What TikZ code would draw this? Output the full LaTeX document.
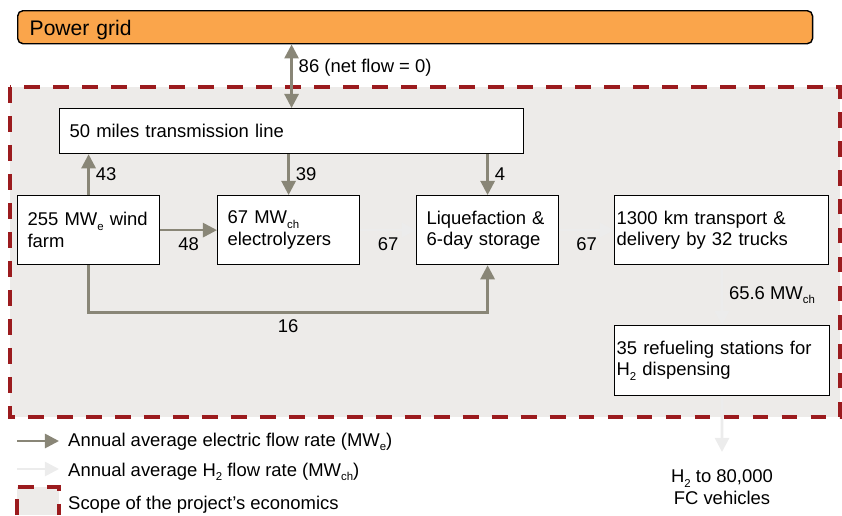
\documentclass[tikz,border=0pt]{standalone}
\usepackage{fontspec}
\setmainfont{Liberation Sans}
\usetikzlibrary{arrows.meta}

\definecolor{naranja}{RGB}{250,165,75}
\definecolor{fondo}{RGB}{237,235,233}
\definecolor{rojo}{RGB}{155,27,30}
\definecolor{flecha}{RGB}{137,134,119}
\definecolor{hidro}{RGB}{236,236,236}

% subindice como en el original
\newcommand{\bajo}[1]{\raisebox{-2.5pt}{\fontsize{6.5}{7}\selectfont #1}}

\tikzset{
  caja/.style={draw, fill=white, line width=0.7pt, anchor=north west, align=left,
    inner ysep=0pt, minimum height=1.38cm},
  red/.style={draw, fill=naranja, line width=0.8pt, rounded corners=3pt, anchor=north west,
    align=left, inner xsep=0.24cm, inner ysep=0pt, minimum width=15.9cm, text width=15.42cm,
    minimum height=0.66cm, text height=10pt, text depth=0.4pt, font=\fontsize{12}{14}\selectfont},
  alcance/.style={draw=rojo, line width=2.2pt, dash pattern=on 9pt off 7.5pt},
  elec/.style={draw=flecha, line width=1.5pt, -{Triangle[length=8pt,width=8pt]}},
  hflujo/.style={draw=hidro, line width=1.5pt, -{Triangle[length=8pt,width=8pt]}},
}

\begin{document}
\begin{tikzpicture}[x=0.02cm, y=-0.02cm, font=\fontsize{10.5}{12.2}\selectfont]
  \useasboundingbox (0,0) rectangle (842,515);

  % Alcance del proyecto
  \fill[fondo] (10,87) rectangle (840,417);
  \draw[alcance] (10,87) rectangle (840,417);

  % Red
  \node[red] (grid) at (17,10) {Power grid};

  % Cajas
  \node[caja, inner xsep=0.2cm, minimum width=9.28cm, text width=8.88cm, minimum height=0.9cm]
    (tline) at (59,108) {50 miles transmission line};
  \node[caja, inner xsep=0.2cm, minimum width=2.84cm, text width=2.44cm]
    (wind) at (17,195) {255 MW\bajo{e} wind\\farm};
  \node[caja, inner xsep=0.2cm, minimum width=2.84cm, text width=2.44cm]
    (electro) at (217,195) {67 MW\bajo{ch}\\electrolyzers};
  \node[caja, inner xsep=0.2cm, minimum width=2.84cm, text width=2.44cm]
    (liq) at (416,195) {Liquefaction \&\\6-day storage};
  \node[caja, inner xsep=1pt, minimum width=4.28cm, text width=4.2cm]
    (trans) at (614,195) {1300 km transport \&\\delivery by 32 trucks};
  \node[caja, inner xsep=1pt, minimum width=4.3cm, text width=4.22cm, minimum height=1.4cm]
    (refuel) at (614,325) {35 refueling stations for\\H\bajo{2} dispensing};
  \node[align=center, anchor=north, inner ysep=10pt] (fcv) at (722,452)
    {H\bajo{2} to 80,000\\FC vehicles};

  % Flujos electricos
  \draw[elec, {Triangle[length=8pt,width=8pt]}-{Triangle[length=8pt,width=8pt]}]
    (grid.south -| tline.north) -- node[right, pos=0.37] {86 (net flow = 0)} (tline.north);
  \draw[elec] (wind.north) -- node[right] {43} (tline.south -| wind.north);
  \draw[elec] (tline.south -| electro.north) -- node[right] {39} (electro.north);
  \draw[elec] (tline.south -| liq.north) -- node[right] {4} (liq.north);
  \draw[elec] (wind.east) -- node[below] {48} (electro.west);
  \draw[elec] (wind.south) -- ++(0,47) -| node[pos=0.25, below] {16} (liq.south);

  % Flujos de H2
  \draw[hflujo] (electro.east) -- node[below] {67} (liq.west);
  \draw[hflujo] (liq.east) -- node[below] {67} (trans.west);
  \draw[hflujo] (trans.south) -- node[right] {65.6 MW\bajo{ch}} (refuel.north);
  \draw[hflujo] (refuel.south) -- (fcv.north);

  % Leyenda
  \coordinate (le1) at (17,441);
  \coordinate (le2) at (59,441);
  \coordinate (lh1) at (17,469);
  \coordinate (lh2) at (59,469);
  \draw[elec] (le1) -- (le2);
  \draw[hflujo] (lh1) -- (lh2);
  \fill[fondo] (17,487) rectangle (59,515);
  \draw[alcance] (17,515) -- (17,487) -- (59,487) -- (59,515);
  \node[anchor=base west] (leg1) at (62,446) {Annual average electric flow rate (MW\bajo{e})};
  \node[anchor=base west] (leg2) at (62,476) {Annual average H\bajo{2} flow rate (MW\bajo{ch})};
  \node[anchor=base west] (leg3) at (62,509) {Scope of the project's economics};

\end{tikzpicture}
\end{document}
